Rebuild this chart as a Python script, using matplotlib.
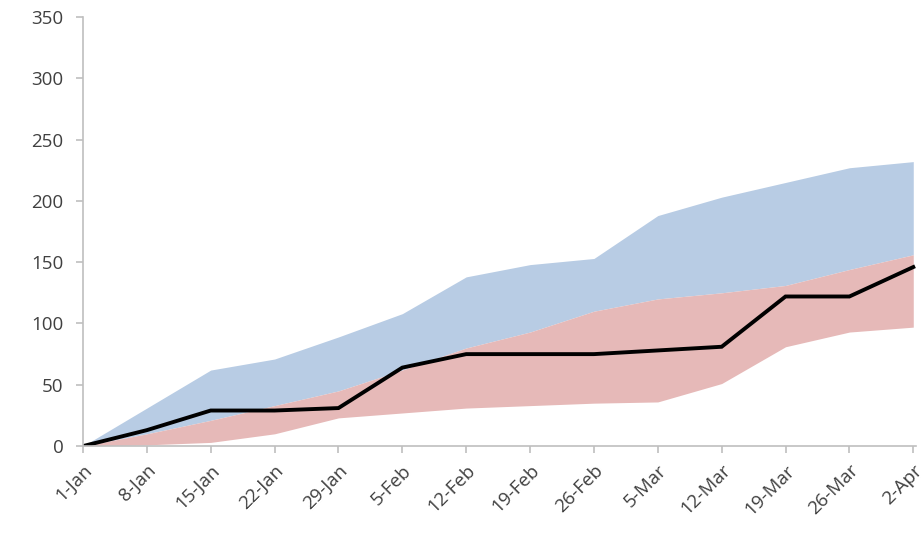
import numpy as np
import matplotlib
matplotlib.use("Agg")
import matplotlib.pyplot as plt

dates = ["1-Jan", "8-Jan", "15-Jan", "22-Jan", "29-Jan", "5-Feb", "12-Feb",
         "19-Feb", "26-Feb", "5-Mar", "12-Mar", "19-Mar", "26-Mar", "2-Apr"]
median = [0, 13, 29, 29, 31, 64, 75, 75, 75, 78, 81, 122, 122, 146]
blue_top = [0, 31, 62, 71, 89, 108, 138, 148, 153, 188, 203, 215, 227, 232]
red_top = [0, 10, 21, 33, 45, 62, 80, 93, 110, 120, 125, 131, 144, 156]
red_bottom = [0, 1, 3, 10, 23, 27, 31, 33, 35, 36, 51, 81, 93, 97]

plt.rcParams["font.family"] = ["Open Sans", "DejaVu Sans"]

fig = plt.figure(figsize=(9.22, 5.46), dpi=100)
ax = fig.add_axes([0.090, 0.183, 0.904, 0.786])

x = np.arange(len(dates))
ax.fill_between(x, red_top, blue_top, color="#b8cce4", linewidth=0)
ax.fill_between(x, red_bottom, red_top, color="#e6b9b8", linewidth=0)
ax.plot(x, median, color="black", linewidth=2.8, solid_joinstyle="miter")

ax.set_xlim(0, 13.05)
ax.set_ylim(0, 350)
ax.set_yticks(range(0, 351, 50))
ax.set_xticks(x)
ax.set_xticklabels(dates, rotation=45, ha="right", rotation_mode="anchor")

for s in ["top", "right"]:
    ax.spines[s].set_visible(False)
for s in ["left", "bottom"]:
    ax.spines[s].set_color("#bfbfbf")
    ax.spines[s].set_linewidth(1.2)
ax.tick_params(axis="both", colors="#bfbfbf", labelcolor="#404040",
               labelsize=13.5, length=5, width=1.2)
ax.tick_params(axis="y", pad=9)
ax.tick_params(axis="x", pad=6)

fig.savefig("out.png", dpi=100)
